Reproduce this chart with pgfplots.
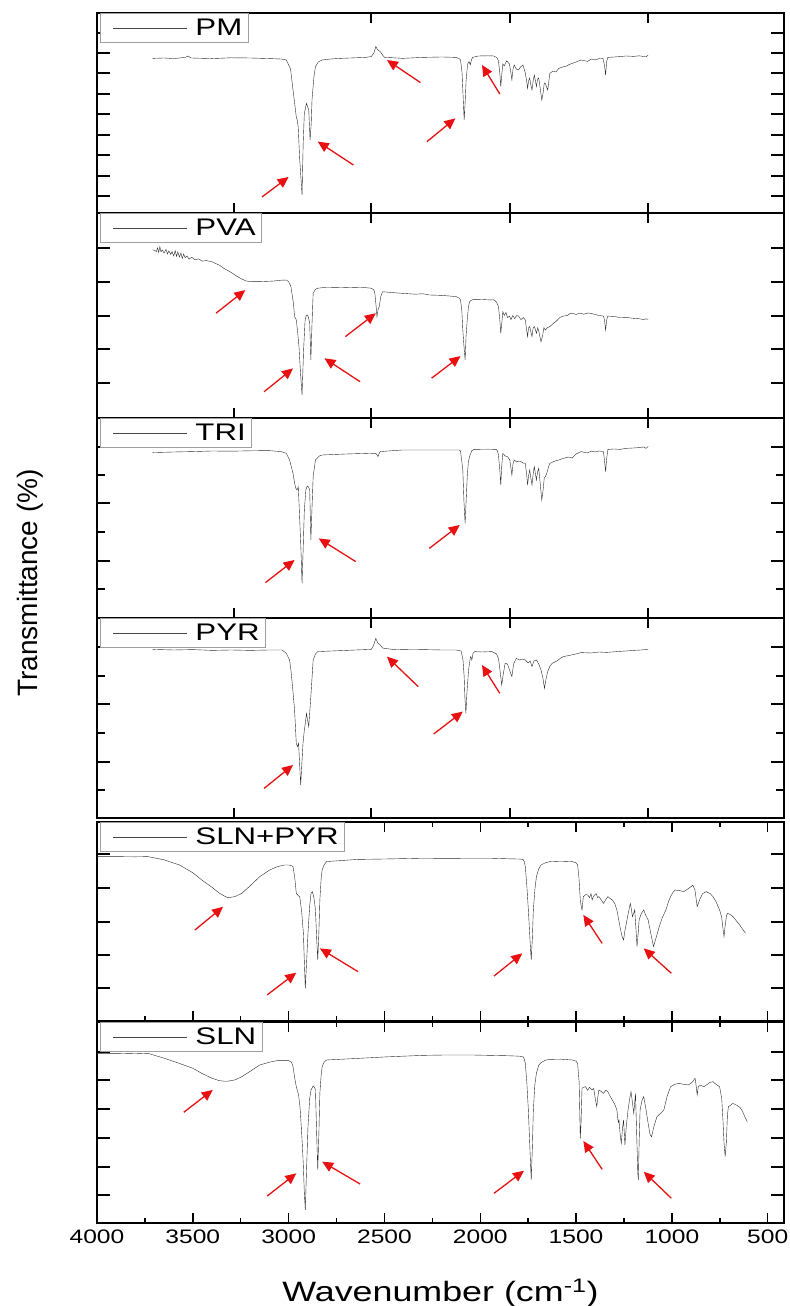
\documentclass[border=0pt]{standalone}
\usepackage{pgfplots}
\pgfplotsset{compat=1.18}
\usepackage{fontspec}
\setmainfont{Liberation Sans}
\usepackage{graphicx}
\usetikzlibrary{arrows.meta}

\definecolor{arrowred}{RGB}{232,16,16}
\definecolor{spec}{RGB}{40,40,40}
\newcommand{\tickfont}{\fontsize{19.5bp}{22bp}\selectfont}
\newcommand{\legfont}{\fontsize{24bp}{27bp}\selectfont}
\newcommand{\labfont}{\fontsize{28bp}{32bp}\selectfont}

\tikzset{arr/.style={arrowred, line width=1.3bp, -{Triangle[length=11bp,width=10bp]}}}

\pgfplotsset{
  panel/.style={
    scale only axis, width=687bp, xmin=415, xmax=4000, x dir=reverse,
    ymin=0, ymax=1, anchor=south,
    axis line style={line width=1.6bp, black},
    tick align=inside, xtick pos=both, ytick pos=both,
    yticklabels={},
    major tick style={line width=1.4bp, black},
    minor tick style={line width=1.4bp, black},
    xtick style={/pgfplots/major tick length=10bp,/pgfplots/minor tick length=5bp},
    ytick style={/pgfplots/major tick length=13bp,/pgfplots/minor tick length=8bp},
    cycle list={{spec, no marks, line width=0.75bp}},
    legend style={at={(0,1)}, anchor=north west, xshift=3bp, draw=gray!75, line width=1bp,
      fill=white, inner xsep=4bp, inner ysep=3.5bp, font=\legfont,
      nodes={inner sep=2bp}},
    legend image code/.code={\path[draw=none,fill=none] (-9bp,0bp) -- (80bp,0bp);
      \draw[line width=0.9bp, gray!55!black] (0bp,0bp) -- (74bp,0bp);},
  },
  toppanel/.style={panel, xtick={3285,2570,1844,1124}, xticklabels={}},
  botpanel/.style={panel, xtick={4000,3500,...,500}, minor x tick num=1},
}

\begin{document}
\begin{tikzpicture}
\path[use as bounding box] (0bp,0bp) rectangle (790bp,1306bp);

% ---------------- PM ----------------
\begin{axis}[toppanel, at={(440.5bp,1093bp)}, height=200bp,
  ytick={0.085,0.185,0.29,0.39,0.495,0.595,0.7,0.8,0.9}]
\addplot coordinates {(3710,0.773)(3650,0.775)(3600,0.772)(3540,0.778)(3524,0.785)(3510,0.775)(3400,0.772)(3300,0.776)(3200,0.775)(3100,0.772)(3040,0.77)(3012,0.765)(2990,0.72)(2977,0.615)(2965,0.52)(2960,0.48)(2955,0.465)(2950,0.43)(2942,0.265)(2930,0.09)(2924,0.35)(2918,0.498)(2907,0.548)(2900,0.53)(2895,0.515)(2888,0.365)(2882,0.45)(2878,0.565)(2868,0.68)(2860,0.732)(2845,0.755)(2825,0.765)(2780,0.77)(2732,0.773)(2650,0.776)(2600,0.778)(2569,0.782)(2555,0.80)(2545,0.832)(2535,0.815)(2522,0.807)(2510,0.79)(2499,0.778)(2450,0.776)(2406,0.773)(2300,0.778)(2200,0.78)(2126,0.778)(2110,0.772)(2103,0.765)(2095,0.70)(2088,0.55)(2084,0.465)(2079,0.55)(2074,0.66)(2066,0.745)(2058,0.757)(2052,0.74)(2046,0.765)(2040,0.778)(2010,0.785)(1960,0.786)(1928,0.785)(1912,0.775)(1905,0.76)(1898,0.70)(1893,0.632)(1887,0.70)(1882,0.745)(1875,0.735)(1870,0.745)(1863,0.76)(1858,0.757)(1848,0.745)(1840,0.70)(1835,0.665)(1829,0.72)(1823,0.74)(1812,0.72)(1800,0.715)(1790,0.73)(1777,0.74)(1765,0.70)(1758,0.66)(1753,0.623)(1748,0.66)(1742,0.675)(1736,0.64)(1730,0.615)(1724,0.66)(1718,0.69)(1712,0.66)(1707,0.632)(1701,0.67)(1695,0.675)(1688,0.63)(1679,0.565)(1672,0.60)(1666,0.65)(1660,0.648)(1654,0.63)(1648,0.615)(1642,0.66)(1637,0.698)(1620,0.71)(1605,0.705)(1590,0.723)(1570,0.73)(1550,0.735)(1530,0.745)(1520,0.748)(1500,0.755)(1474,0.765)(1440,0.758)(1420,0.77)(1400,0.765)(1380,0.772)(1360,0.773)(1352,0.74)(1346,0.69)(1340,0.76)(1334,0.778)(1300,0.78)(1270,0.782)(1241,0.785)(1200,0.783)(1170,0.786)(1147,0.782)(1135,0.78)(1124,0.79)};
\addlegendentry{\scalebox{1.3}[1]{PM}}
\draw[arr] (axis cs:3139,0.08) -- (axis cs:3000,0.18);
\draw[arr] (axis cs:2662,0.24) -- (axis cs:2848,0.357);
\draw[arr] (axis cs:2312,0.652) -- (axis cs:2487,0.765);
\draw[arr] (axis cs:2278,0.357) -- (axis cs:2130,0.473);
\draw[arr] (axis cs:1898,0.595) -- (axis cs:1991,0.74);
\end{axis}

% ---------------- PVA ----------------
\begin{axis}[toppanel, at={(440.5bp,888bp)}, height=205bp,
  ytick={0.171,0.337,0.498,0.663,0.829}]
\addplot coordinates {(3710,0.82)(3700,0.818)(3690,0.812)(3684,0.83)(3678,0.808)(3672,0.836)(3666,0.81)(3660,0.82)(3650,0.805)(3640,0.822)(3632,0.80)(3625,0.815)(3615,0.798)(3608,0.812)(3600,0.79)(3592,0.816)(3585,0.788)(3578,0.81)(3570,0.785)(3562,0.805)(3555,0.778)(3548,0.80)(3540,0.782)(3530,0.79)(3520,0.775)(3505,0.784)(3490,0.772)(3470,0.776)(3450,0.765)(3430,0.768)(3400,0.762)(3384,0.755)(3360,0.745)(3338,0.73)(3300,0.71)(3268,0.69)(3240,0.676)(3221,0.668)(3190,0.665)(3151,0.665)(3080,0.668)(3040,0.672)(3012,0.673)(3000,0.665)(2988,0.641)(2975,0.56)(2969,0.494)(2963,0.485)(2960,0.478)(2954,0.43)(2946,0.348)(2938,0.22)(2930,0.112)(2922,0.33)(2914,0.478)(2908,0.50)(2902,0.502)(2896,0.49)(2890,0.462)(2884,0.283)(2878,0.46)(2872,0.608)(2860,0.628)(2848,0.633)(2802,0.638)(2700,0.636)(2620,0.638)(2569,0.633)(2555,0.625)(2550,0.608)(2544,0.55)(2539,0.494)(2533,0.53)(2527,0.543)(2520,0.59)(2510,0.616)(2460,0.612)(2406,0.608)(2340,0.604)(2300,0.606)(2266,0.6)(2200,0.598)(2160,0.595)(2126,0.592)(2110,0.585)(2103,0.576)(2096,0.52)(2091,0.429)(2085,0.35)(2079,0.283)(2074,0.40)(2068,0.478)(2062,0.54)(2056,0.567)(2045,0.575)(2033,0.579)(1990,0.578)(1950,0.576)(1928,0.576)(1915,0.565)(1905,0.543)(1898,0.48)(1893,0.413)(1887,0.47)(1882,0.519)(1875,0.50)(1866,0.515)(1858,0.49)(1847,0.497)(1840,0.48)(1830,0.50)(1820,0.485)(1810,0.50)(1800,0.497)(1788,0.48)(1775,0.49)(1765,0.478)(1758,0.43)(1753,0.397)(1748,0.44)(1742,0.446)(1736,0.42)(1730,0.397)(1724,0.44)(1718,0.446)(1712,0.43)(1707,0.413)(1700,0.44)(1694,0.42)(1683,0.372)(1675,0.40)(1668,0.44)(1660,0.429)(1650,0.44)(1637,0.446)(1620,0.46)(1600,0.475)(1585,0.49)(1567,0.497)(1545,0.50)(1530,0.51)(1520,0.511)(1500,0.505)(1480,0.512)(1460,0.506)(1440,0.512)(1427,0.511)(1400,0.505)(1380,0.50)(1357,0.497)(1352,0.48)(1346,0.429)(1340,0.48)(1334,0.497)(1300,0.495)(1270,0.49)(1241,0.491)(1200,0.486)(1170,0.484)(1147,0.48)(1135,0.484)(1124,0.481)};
\addlegendentry{\scalebox{1.3}[1]{PVA}}
\draw[arr] (axis cs:3379,0.511) -- (axis cs:3226,0.624);
\draw[arr] (axis cs:3128,0.128) -- (axis cs:2977,0.242);
\draw[arr] (axis cs:2627,0.177) -- (axis cs:2813,0.291);
\draw[arr] (axis cs:2704,0.397) -- (axis cs:2545,0.511);
\draw[arr] (axis cs:2254,0.194) -- (axis cs:2103,0.302);
\end{axis}

% ---------------- TRI ----------------
\begin{axis}[toppanel, at={(440.5bp,688bp)}, height=200bp,
  ytick={0.285,0.575,0.855}, minor ytick={0.145,0.43,0.715},
  ylabel={Transmittance (\%)},
  ylabel style={font=\labfont, at={(axis description cs:-0.0975,0.175)}, anchor=center}]
\addplot coordinates {(3710,0.827)(3600,0.83)(3500,0.832)(3400,0.835)(3300,0.834)(3200,0.836)(3104,0.837)(3040,0.832)(3012,0.823)(2995,0.79)(2977,0.723)(2968,0.67)(2962,0.648)(2956,0.64)(2950,0.657)(2946,0.58)(2942,0.49)(2936,0.35)(2930,0.173)(2924,0.35)(2918,0.54)(2910,0.64)(2903,0.66)(2896,0.655)(2890,0.64)(2884,0.39)(2878,0.55)(2872,0.707)(2860,0.79)(2840,0.81)(2825,0.815)(2700,0.82)(2600,0.823)(2560,0.822)(2545,0.823)(2538,0.815)(2534,0.807)(2528,0.822)(2522,0.832)(2480,0.835)(2406,0.84)(2300,0.84)(2200,0.84)(2110,0.84)(2103,0.835)(2096,0.78)(2091,0.74)(2085,0.58)(2079,0.473)(2073,0.6)(2068,0.707)(2062,0.78)(2056,0.807)(2045,0.835)(2033,0.843)(1960,0.844)(1917,0.843)(1910,0.835)(1905,0.815)(1898,0.74)(1893,0.665)(1888,0.76)(1882,0.823)(1870,0.81)(1858,0.807)(1846,0.79)(1840,0.75)(1835,0.715)(1829,0.77)(1823,0.79)(1810,0.78)(1800,0.785)(1788,0.782)(1776,0.775)(1765,0.773)(1758,0.72)(1753,0.665)(1748,0.71)(1742,0.74)(1736,0.70)(1730,0.665)(1724,0.72)(1718,0.757)(1712,0.72)(1707,0.69)(1701,0.73)(1695,0.748)(1688,0.68)(1679,0.59)(1672,0.64)(1666,0.70)(1660,0.707)(1654,0.72)(1648,0.74)(1642,0.76)(1637,0.773)(1610,0.785)(1590,0.79)(1567,0.798)(1540,0.805)(1520,0.80)(1500,0.82)(1474,0.832)(1440,0.825)(1420,0.835)(1400,0.83)(1380,0.835)(1357,0.832)(1352,0.79)(1346,0.732)(1340,0.80)(1334,0.843)(1300,0.845)(1270,0.843)(1241,0.848)(1200,0.85)(1170,0.852)(1147,0.855)(1135,0.848)(1124,0.857)};
\addlegendentry{\scalebox{1.3}[1]{TRI}}
\draw[arr] (axis cs:3121,0.177) -- (axis cs:2969,0.29);
\draw[arr] (axis cs:2650,0.282) -- (axis cs:2843,0.398);
\draw[arr] (axis cs:2266,0.348) -- (axis cs:2107,0.465);
\end{axis}

% ---------------- PYR ----------------
\begin{axis}[toppanel, at={(440.5bp,488bp)}, height=200bp,
  ytick={0.28,0.57,0.855}, minor ytick={0.14,0.425,0.71}]
\addplot coordinates {(3710,0.843)(3600,0.84)(3500,0.842)(3400,0.838)(3300,0.84)(3200,0.838)(3100,0.84)(3034,0.84)(3012,0.823)(2995,0.79)(2988,0.74)(2978,0.64)(2969,0.54)(2960,0.373)(2955,0.36)(2953,0.357)(2948,0.373)(2942,0.257)(2937,0.165)(2931,0.27)(2925,0.373)(2918,0.44)(2913,0.473)(2907,0.523)(2901,0.49)(2895,0.457)(2889,0.54)(2883,0.623)(2872,0.79)(2860,0.82)(2848,0.832)(2750,0.836)(2650,0.84)(2569,0.843)(2558,0.86)(2545,0.898)(2535,0.875)(2522,0.865)(2510,0.85)(2499,0.848)(2450,0.842)(2406,0.843)(2300,0.842)(2200,0.84)(2126,0.84)(2100,0.835)(2090,0.79)(2084,0.707)(2080,0.6)(2075,0.523)(2070,0.62)(2061,0.74)(2051,0.807)(2046,0.80)(2044,0.79)(2040,0.81)(2038,0.823)(2029,0.832)(1990,0.83)(1940,0.832)(1915,0.82)(1905,0.798)(1896,0.73)(1888,0.665)(1880,0.72)(1870,0.773)(1858,0.77)(1847,0.74)(1840,0.72)(1835,0.707)(1826,0.77)(1812,0.798)(1795,0.79)(1780,0.795)(1765,0.79)(1750,0.775)(1740,0.785)(1730,0.757)(1720,0.785)(1707,0.79)(1695,0.77)(1683,0.74)(1673,0.70)(1665,0.648)(1656,0.70)(1648,0.732)(1636,0.76)(1625,0.773)(1600,0.785)(1580,0.80)(1567,0.807)(1540,0.812)(1510,0.818)(1474,0.827)(1420,0.825)(1380,0.83)(1340,0.828)(1287,0.832)(1240,0.835)(1200,0.838)(1160,0.84)(1124,0.843)};
\addlegendentry{\scalebox{1.3}[1]{PYR}}
\draw[arr] (axis cs:3128,0.148) -- (axis cs:2977,0.265);
\draw[arr] (axis cs:2324,0.657) -- (axis cs:2487,0.807);
\draw[arr] (axis cs:2243,0.42) -- (axis cs:2091,0.532);
\draw[arr] (axis cs:1898,0.623) -- (axis cs:1991,0.765);
\end{axis}

% ---------------- SLN+PYR ----------------
\begin{axis}[botpanel, at={(440.5bp,285bp)}, height=199bp, xticklabels={},
  ytick={0.166,0.332,0.497,0.668,0.839}]
\addplot coordinates {(4000,0.826)(3900,0.826)(3800,0.825)(3734,0.826)(3650,0.81)(3570,0.784)(3500,0.745)(3454,0.709)(3400,0.672)(3361,0.642)(3330,0.625)(3314,0.62)(3280,0.625)(3244,0.642)(3200,0.68)(3151,0.725)(3100,0.758)(3058,0.776)(3020,0.784)(3000,0.784)(2985,0.78)(2977,0.776)(2968,0.72)(2960,0.642)(2950,0.63)(2942,0.625)(2932,0.55)(2923,0.441)(2918,0.30)(2913,0.164)(2906,0.30)(2899,0.441)(2890,0.58)(2883,0.642)(2876,0.65)(2868,0.62)(2860,0.558)(2854,0.42)(2848,0.307)(2842,0.45)(2837,0.608)(2830,0.72)(2825,0.759)(2815,0.785)(2802,0.801)(2700,0.808)(2638,0.812)(2500,0.814)(2400,0.816)(2300,0.818)(2173,0.817)(2050,0.818)(1950,0.818)(1850,0.815)(1800,0.814)(1777,0.812)(1770,0.80)(1765,0.776)(1757,0.68)(1749,0.558)(1740,0.40)(1734,0.307)(1728,0.42)(1723,0.558)(1715,0.66)(1707,0.725)(1695,0.765)(1683,0.784)(1660,0.795)(1637,0.801)(1580,0.803)(1520,0.801)(1500,0.795)(1492,0.784)(1485,0.72)(1478,0.608)(1472,0.57)(1469,0.558)(1462,0.625)(1450,0.635)(1439,0.633)(1430,0.62)(1422,0.64)(1416,0.608)(1410,0.625)(1404,0.633)(1395,0.64)(1388,0.62)(1381,0.625)(1370,0.61)(1357,0.591)(1345,0.61)(1334,0.625)(1322,0.615)(1311,0.608)(1298,0.59)(1287,0.558)(1276,0.50)(1264,0.441)(1258,0.42)(1252,0.407)(1246,0.45)(1241,0.474)(1230,0.53)(1217,0.591)(1211,0.56)(1206,0.524)(1200,0.54)(1194,0.558)(1188,0.47)(1182,0.374)(1176,0.44)(1171,0.508)(1160,0.54)(1147,0.558)(1136,0.53)(1124,0.508)(1110,0.44)(1096,0.374)(1082,0.42)(1066,0.474)(1050,0.52)(1031,0.558)(1018,0.60)(1007,0.625)(995,0.645)(984,0.658)(960,0.655)(938,0.65)(915,0.665)(900,0.675)(891,0.683)(880,0.66)(868,0.575)(855,0.61)(840,0.64)(821,0.65)(800,0.64)(786,0.625)(770,0.60)(751,0.558)(740,0.52)(733,0.46)(728,0.424)(722,0.48)(715,0.53)(709,0.541)(695,0.535)(681,0.524)(665,0.505)(646,0.482)(630,0.46)(616,0.441)};
\addlegendentry{\scalebox{1.3}[1]{SLN+PYR}}
\draw[arr] (axis cs:3489,0.457) -- (axis cs:3342,0.574);
\draw[arr] (axis cs:3112,0.131) -- (axis cs:2960,0.243);
\draw[arr] (axis cs:2638,0.248) -- (axis cs:2837,0.365);
\draw[arr] (axis cs:1928,0.226) -- (axis cs:1781,0.34);
\draw[arr] (axis cs:1364,0.39) -- (axis cs:1462,0.533);
\draw[arr] (axis cs:1003,0.24) -- (axis cs:1147,0.365);
\end{axis}

% ---------------- SLN ----------------
\begin{axis}[botpanel, at={(440.5bp,83bp)}, height=201bp,
  ytick={0.139,0.279,0.423,0.567,0.711,0.851},
  xticklabel={\scalebox{1.26}[1]{\pgfmathprintnumber[assume math mode=true,1000 sep={}]{\tick}}},
  xticklabel style={font=\tickfont, yshift=-3bp},
  xlabel={\scalebox{1.28}[1]{Wavenumber (cm\textsuperscript{-1})}},
  xlabel style={font=\labfont, at={(axis description cs:0.5,-0.348)}, anchor=center}]
\addplot coordinates {(4000,0.844)(3900,0.844)(3800,0.842)(3734,0.844)(3650,0.82)(3570,0.794)(3500,0.77)(3454,0.745)(3400,0.72)(3361,0.708)(3330,0.705)(3314,0.706)(3280,0.712)(3244,0.728)(3200,0.755)(3151,0.786)(3100,0.80)(3058,0.808)(3000,0.808)(2985,0.80)(2977,0.778)(2968,0.72)(2960,0.678)(2953,0.655)(2948,0.637)(2940,0.57)(2934,0.479)(2928,0.38)(2923,0.28)(2918,0.15)(2913,0.065)(2906,0.28)(2899,0.479)(2890,0.62)(2883,0.662)(2872,0.682)(2865,0.675)(2860,0.662)(2854,0.45)(2848,0.264)(2842,0.45)(2837,0.645)(2830,0.74)(2825,0.778)(2815,0.80)(2802,0.811)(2700,0.816)(2638,0.819)(2500,0.826)(2400,0.83)(2300,0.834)(2173,0.836)(2050,0.836)(1950,0.834)(1850,0.832)(1800,0.83)(1777,0.828)(1770,0.815)(1765,0.794)(1757,0.70)(1749,0.562)(1740,0.35)(1734,0.214)(1728,0.38)(1723,0.562)(1715,0.69)(1707,0.745)(1695,0.785)(1683,0.798)(1660,0.81)(1637,0.814)(1580,0.815)(1520,0.811)(1500,0.805)(1492,0.794)(1484,0.70)(1478,0.421)(1474,0.50)(1469,0.67)(1462,0.675)(1450,0.678)(1440,0.66)(1430,0.675)(1416,0.662)(1408,0.67)(1400,0.62)(1392,0.579)(1386,0.63)(1381,0.662)(1370,0.655)(1357,0.645)(1345,0.66)(1334,0.653)(1322,0.63)(1311,0.612)(1298,0.59)(1287,0.562)(1280,0.50)(1276,0.512)(1270,0.44)(1264,0.396)(1258,0.47)(1252,0.512)(1248,0.44)(1245,0.388)(1238,0.48)(1229,0.562)(1220,0.62)(1213,0.653)(1206,0.60)(1199,0.546)(1194,0.60)(1190,0.645)(1184,0.45)(1178,0.25)(1175,0.214)(1171,0.40)(1166,0.562)(1156,0.61)(1147,0.629)(1136,0.57)(1124,0.496)(1114,0.44)(1106,0.429)(1094,0.48)(1078,0.529)(1060,0.545)(1042,0.562)(1025,0.63)(1007,0.678)(985,0.69)(961,0.695)(940,0.69)(914,0.687)(895,0.70)(879,0.72)(873,0.68)(868,0.637)(862,0.68)(850,0.685)(833,0.678)(815,0.69)(800,0.70)(786,0.703)(770,0.69)(751,0.678)(740,0.62)(733,0.50)(728,0.40)(722,0.33)(716,0.40)(710,0.54)(705,0.579)(695,0.585)(681,0.595)(660,0.585)(645,0.575)(635,0.562)(620,0.53)(607,0.504)};
\addlegendentry{\scalebox{1.3}[1]{SLN}}
\draw[arr] (axis cs:3547,0.551) -- (axis cs:3396,0.662);
\draw[arr] (axis cs:3112,0.134) -- (axis cs:2960,0.247);
\draw[arr] (axis cs:2627,0.194) -- (axis cs:2825,0.305);
\draw[arr] (axis cs:1928,0.148) -- (axis cs:1772,0.26);
\draw[arr] (axis cs:1364,0.267) -- (axis cs:1462,0.408);
\draw[arr] (axis cs:1003,0.123) -- (axis cs:1147,0.255);
\end{axis}
\end{tikzpicture}
\end{document}
